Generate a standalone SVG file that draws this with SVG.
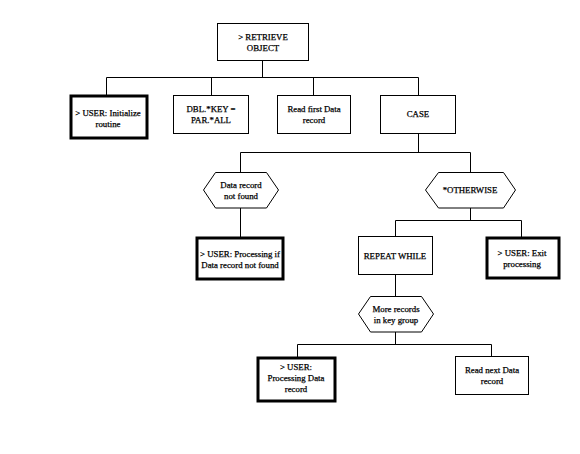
<svg xmlns="http://www.w3.org/2000/svg" width="580" height="454" viewBox="0 0 580 454">
<style>
.box{fill:#fff;stroke:#000;stroke-width:1}
.thick{fill:#fff;stroke:#000;stroke-width:3}
.hex{fill:#fff;stroke:#000;stroke-width:1}
.ln{fill:none;stroke:#000;stroke-width:1}
text{font-family:'Liberation Serif','Times New Roman',Times,serif;font-size:8.8px;font-weight:normal;text-anchor:middle;fill:#000;stroke:#000;stroke-width:0.25}
</style>
<rect width="580" height="454" fill="#fff"/>
<g id="connectors">
<path class="ln" d="M262.5,61V77.5M106.5,77.5H418.5M106.5,77.5V95M211.5,77.5V95M313.5,77.5V95M418.5,77.5V95"/>
<path class="ln" d="M418.5,133V152.5M240.5,152.5H470.5M240.5,152.5V172M470.5,152.5V172"/>
<path class="ln" d="M240.5,208V237"/>
<path class="ln" d="M470.5,208V220.5M395.5,220.5H521.5M395.5,220.5V236M521.5,220.5V237"/>
<path class="ln" d="M395.5,275V296"/>
<path class="ln" d="M395.5,332V344.5M297.5,344.5H491.5M297.5,344.5V357M491.5,344.5V356"/>
</g>
<g id="n_root"><rect class="box" x="217.5" y="23.5" width="91" height="37"/><text x="263" y="40">&gt; RETRIEVE</text><text x="263" y="51">OBJECT</text></g>
<g id="n_init"><rect class="thick" x="71" y="96" width="76" height="42"/><text x="108" y="116">&gt; USER: Initialize</text><text x="108" y="127">routine</text></g>
<g id="n_dbl"><rect class="box" x="173.5" y="95.5" width="75" height="38"/><text x="211" y="112">DBL.*KEY  =</text><text x="211" y="123">PAR.*ALL</text></g>
<g id="n_readfirst"><rect class="box" x="277.5" y="95.5" width="73" height="38"/><text x="314" y="112">Read first Data</text><text x="314" y="123">record</text></g>
<g id="n_case"><rect class="box" x="380.5" y="95.5" width="75" height="38"/><text x="418" y="117">CASE</text></g>
<g id="n_notfound"><polygon class="hex" points="203.5,190 215.5,172.5 266.5,172.5 278.5,190 266.5,208 215.5,208"/><text x="241" y="188">Data record</text><text x="241" y="199">not found</text></g>
<g id="n_otherwise"><polygon class="hex" points="425.5,190 438.5,172.5 503.5,172.5 515.5,190 503.5,208 438.5,208"/><text x="470" y="193">*OTHERWISE</text></g>
<g id="n_procnotfound"><rect class="thick" x="197" y="238" width="86" height="41"/><text x="240" y="257">&gt; USER: Processing if</text><text x="240" y="268">Data record not found</text></g>
<g id="n_repeat"><rect class="box" x="358.5" y="236.5" width="74" height="38"/><text x="395" y="259">REPEAT WHILE</text></g>
<g id="n_exit"><rect class="thick" x="487" y="238" width="72" height="40"/><text x="522" y="256">&gt; USER: Exit</text><text x="522" y="267">processing</text></g>
<g id="n_more"><polygon class="hex" points="358.5,314 370.5,296.5 421.5,296.5 433.5,314 421.5,332 370.5,332"/><text x="396" y="312">More records</text><text x="396" y="323">in key group</text></g>
<g id="n_procdata"><rect class="thick" x="258" y="358" width="77" height="43"/><text x="296" y="370">&gt; USER:</text><text x="296" y="381">Processing Data</text><text x="296" y="392">record</text></g>
<g id="n_readnext"><rect class="box" x="455.5" y="356.5" width="73" height="38"/><text x="492" y="373">Read next Data</text><text x="492" y="384">record</text></g>
</svg>
